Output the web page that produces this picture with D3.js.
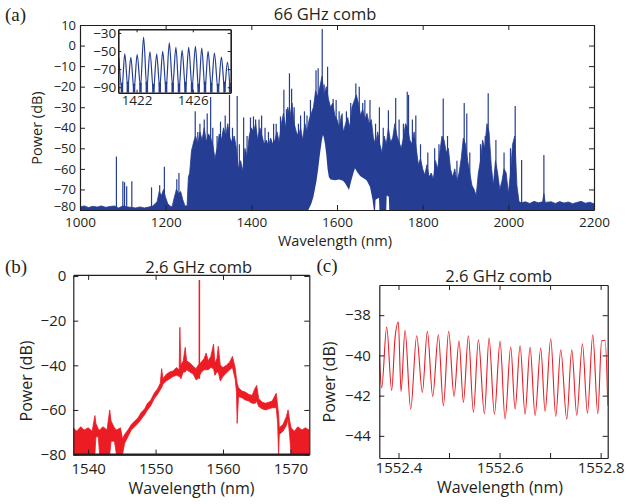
<!DOCTYPE html>
<html>
<head>
<meta charset="utf-8">
<script src="https://cdn.jsdelivr.net/npm/d3@7"></script>
<style>
body { margin: 0; background: white; }
svg { display: block; }
</style>
</head>
<body>
<svg id="fig"></svg>
<script>
// ---------- panel (a): 66 GHz comb, [wavelength nm, power dB] ----------
var aEnvelope = [
  [1000,-78.5],[1010,-78],[1020,-78.8],[1030,-78.2],[1040,-78.6],[1050,-78],[1060,-78.7],[1070,-78.3],
  [1080,-78],[1090,-79],[1100,-78],[1110,-78.5],[1120,-78.7],[1130,-79],[1140,-78.5],[1150,-79],
  [1160,-78.6],[1170,-78],[1180,-76],[1185,-71],[1190,-73],[1195,-70],[1200,-74],[1205,-77],
  [1210,-78],[1215,-78.5],[1220,-74],[1225,-70],[1230,-72],[1235,-71],[1240,-75],[1245,-78],
  [1250,-78],[1253,-64],[1256,-62],[1260,-52],[1265,-47],[1270,-44],[1275,-48],[1280,-42],
  [1285,-46],[1290,-40],[1295,-47],[1300,-43],[1305,-45],[1310,-48],[1315,-55],[1320,-50],
  [1325,-43],[1330,-46],[1335,-40],[1340,-44],[1345,-38],[1350,-45],[1355,-47],[1360,-44],
  [1365,-50],[1370,-60],[1375,-56],[1380,-61],[1385,-50],[1390,-54],[1395,-44],[1400,-40],
  [1405,-42],[1410,-38],[1415,-46],[1420,-40],[1425,-44],[1430,-48],[1435,-46],[1440,-49],
  [1445,-45],[1450,-48],[1455,-46],[1460,-42],[1465,-47],[1470,-38],[1475,-33],[1480,-40],
  [1485,-30],[1490,-35],[1495,-28],[1500,-38],[1505,-42],[1510,-44],[1515,-40],[1520,-46],
  [1525,-38],[1530,-42],[1535,-36],[1540,-33],[1545,-30],[1550,-22],[1555,-25],[1560,-20],
  [1565,-15],[1570,-24],[1575,-20],[1580,-26],[1585,-30],[1590,-28],[1595,-34],[1600,-36],
  [1605,-40],[1610,-34],[1615,-42],[1620,-38],[1625,-35],[1630,-40],[1635,-30],[1640,-27],
  [1645,-24],[1650,-28],[1655,-34],[1660,-31],[1665,-36],[1670,-33],[1675,-38],[1680,-36],
  [1685,-45],[1690,-48],[1695,-42],[1700,-48],[1705,-52],[1710,-44],[1715,-48],[1720,-40],
  [1725,-47],[1730,-45],[1735,-38],[1740,-44],[1745,-47],[1750,-50],[1755,-45],[1760,-38],
  [1765,-40],[1770,-46],[1775,-48],[1780,-42],[1785,-50],[1790,-58],[1795,-55],[1800,-60],
  [1805,-63],[1810,-58],[1815,-64],[1820,-62],[1825,-65],[1830,-56],[1835,-60],[1840,-52],
  [1845,-44],[1850,-46],[1855,-52],[1860,-50],[1865,-60],[1870,-64],[1875,-60],[1880,-66],
  [1885,-62],[1890,-55],[1895,-45],[1900,-48],[1905,-56],[1910,-62],[1915,-68],[1920,-70],
  [1925,-73],[1930,-62],[1935,-56],[1940,-46],[1945,-50],[1950,-38],[1955,-42],[1960,-58],
  [1965,-68],[1970,-56],[1975,-62],[1980,-70],[1985,-66],[1990,-60],[1995,-62],[2000,-72],
  [2005,-62],[2010,-48],[2015,-44],[2020,-68],[2025,-76],[2030,-76.5],[2040,-76],[2050,-76.8],
  [2060,-75.8],[2070,-76.5],[2080,-76],[2083,-72],[2086,-76.3],[2100,-76],[2110,-76.8],[2120,-75.9],
  [2130,-76.6],[2140,-76.1],[2150,-76.9],[2160,-76.3],[2170,-75.8],[2180,-76.7],[2190,-76.2],[2200,-77]
];
var aSpikes = [
  [1085,-54],[1100,-66],[1104,-66.5],[1109,-68.5],[1121,-66],[1167,-69],[1186,-68],[1197,-59],
  [1226,-65],[1231,-62],[1262,-50],[1269,-32],[1275,-42],[1280,-38],[1290,-36],[1297,-33],
  [1305,-25],[1310,-40],[1320,-44],[1328,-37],[1339,-34],[1349,-24],[1356,-40],[1367,-24.5],
  [1372,-48],[1382,-35],[1390,-44],[1398,-35],[1405,-34.5],[1410,-36],[1418,-36],[1424,-34],
  [1432,-40],[1440,-42],[1452,-38],[1458,-38],[1468,-34.5],[1476,-21.5],[1482,-31],[1489,-13.5],
  [1494,-21],[1500,-30],[1510,-38],[1515,-34],[1524,-32],[1530,-34],[1538,-26.5],[1551,-12],
  [1556,-11],[1565.5,8],[1570,-19],[1578,-10.3],[1591,-26],[1598,-26.5],[1605,-32],[1612,-33],
  [1622,-32],[1632,-28],[1644,-18.4],[1652,-20],[1660,-28],[1665,-26.5],[1677,-26.5],[1690,-38],
  [1699,-30],[1708,-40],[1720,-31.5],[1737,-25.5],[1745,-36],[1755,-38],[1764,-22.5],[1767,-24],
  [1776,-36],[1784,-34],[1795,-48],[1812,-52],[1828,-50],[1838,-48],[1848,-25.7],[1858,-44],
  [1880,-56],[1897,-28],[1903,-33],[1910,-52],[1935,-48],[1946,-44],[1953,-23.2],[1971,-46],
  [1990,-52],[2005,-50],[2016,-29.4],[2031,-55.7],[2083,-53.2]
];
// empty (white) regions under the spectrum
var aHole1 = [
  [1533,-80],[1540,-77],[1545,-73.5],[1552,-66],[1556,-60],[1560,-53],[1564,-47],[1567,-43.5],
  [1569,-44.5],[1572,-48],[1575,-53],[1578,-60],[1581,-64],[1585,-65.2],[1595,-65.5],[1605,-65.2],
  [1614,-65.8],[1619,-67],[1623,-68.5],[1628,-70.3],[1633,-66],[1638,-62.2],[1642,-59.7],[1647,-61.5],
  [1654,-63.5],[1662,-64.5],[1669,-65.5],[1677,-68.7],[1683,-75],[1686,-80]
];
var aHole2 = [[1689,-80],[1690,-75],[1698,-74],[1699,-80]];
var aHole3 = [[1715,-80],[1716,-73],[1721,-73.5],[1722,-80]];

// inset of panel (a)
var insetPeaks = [
  [1420.74,-57.8],[1421.16,-53],[1421.59,-57],[1422.04,-54],[1422.5,-34.5],[1422.95,-51],
  [1423.43,-53.3],[1423.86,-50.4],[1424.33,-41],[1424.8,-46],[1425.24,-49.3],[1425.71,-46],
  [1426.19,-44.9],[1426.64,-46.7],[1427.09,-50.4],[1427.54,-52.2],[1428.04,-56.7],[1428.47,-62.2]
];
var insetValleys = [
  [1420.96,-92],[1421.38,-90],[1421.82,-93],[1422.28,-89],[1422.73,-91],[1423.2,-94],
  [1423.65,-90],[1424.1,-92],[1424.57,-89],[1425.02,-93],[1425.48,-91],[1425.95,-90],
  [1426.42,-94],[1426.87,-92],[1427.32,-90],[1427.8,-93],[1428.26,-91],[1428.66,-95]
];
var insetValleyTop = [-85,-84,-86,-85,-84,-86,-85,-84,-85,-86,-84,-85,-86,-84,-85,-86,-84,-85];

// ---------- panel (b): 2.6 GHz comb, [nm, upper dB, lower dB] ----------
var bBand = [
  [1537.8,-68,-80],[1538.3,-69.5,-80],[1538.9,-67.5,-80],[1539.4,-69,-80],[1540.0,-68,-80],
  [1540.6,-69.5,-80],[1541.0,-62.5,-80],[1541.15,-66,-72],[1541.5,-68.5,-72],[1541.7,-69,-80],
  [1542.2,-67.5,-80],[1542.8,-69,-80],[1543.2,-60,-80],[1543.4,-65,-74],[1543.9,-68,-74],
  [1544.2,-69,-80],[1544.8,-68,-80],[1545.1,-73,-80],[1545.4,-71,-75],[1545.9,-69,-72],
  [1546.4,-66.5,-69],[1546.9,-65,-67.5],[1547.4,-63.5,-66],[1547.9,-61,-64],[1548.4,-59.5,-62],
  [1548.8,-57,-60],[1549.3,-55.5,-58],[1549.8,-52.5,-55],[1550.3,-50.5,-53],[1550.7,-48,-51],
  [1550.9,-41.5,-50],[1551.1,-46,-48.5],[1551.6,-44,-47],[1552.1,-43,-46],[1552.6,-42.5,-45],
  [1553.1,-41,-44.5],[1553.5,-42,-45],[1553.6,-23,-45],[1553.75,-40,-46],[1554.1,-38,-43],
  [1554.4,-32,-43],[1554.6,-38,-42],[1555.1,-39,-43],[1555.6,-40.5,-44],[1556.0,-41.5,-46.5],
  [1556.3,-40,-46],[1556.8,-38.5,-43],[1557.2,-37,-42],[1557.5,-34.5,-42],[1557.8,-38,-42],
  [1558.2,-36,-41],[1558.6,-30.5,-41.5],[1558.8,-39,-44.5],[1559.1,-37,-43],[1559.3,-31.5,-43],
  [1559.6,-40,-47],[1560.0,-41,-45],[1560.5,-40,-43.5],[1561.0,-38.5,-42],[1561.4,-36,-41],
  [1561.8,-41,-46],[1562.0,-46,-52],[1562.1,-48,-66],[1562.3,-50,-54],[1562.8,-51.5,-54.5],
  [1563.3,-52,-55.5],[1563.8,-53,-56],[1564.3,-53.5,-57],[1564.8,-50,-57],[1565.0,-49,-56],
  [1565.3,-55,-58.5],[1565.8,-56.5,-59.5],[1566.3,-57,-60],[1566.8,-56.5,-59.5],[1567.3,-56,-59],
  [1567.9,-52.5,-59],[1568.1,-58,-66],[1568.25,-62,-80],[1568.35,-68,-71],[1568.9,-66.5,-69.5],
  [1569.4,-63,-67],[1569.65,-60,-64],[1569.9,-65,-72],[1570.1,-68,-80],[1570.6,-69.5,-80],
  [1571.1,-67.5,-80],[1571.7,-69,-80],[1572.2,-68,-80],[1572.8,-69,-80]
];
var bPump = [[1556.5,-1.8,-46]];

// ---------- panel (c): zoom of the 2.6 GHz comb, [nm, dB] ----------
var cTrace = [
  [1552.3620,-39.97],[1552.3667,-41.62],[1552.3766,-38.59],[1552.3865,-41.74],[1552.3931,-39.14],
  [1552.3997,-38.34],[1552.4050,-41.79],[1552.4129,-38.75],[1552.4241,-42.67],[1552.4360,-39.02],
  [1552.4472,-41.84],[1552.4571,-38.80],[1552.4677,-42.04],[1552.4789,-38.97],[1552.4888,-42.50],
  [1552.4993,-38.80],[1552.5099,-42.04],[1552.5198,-39.27],[1552.5284,-42.34],[1552.5383,-39.02],
  [1552.5482,-42.83],[1552.5581,-39.22],[1552.5700,-42.90],[1552.5792,-39.14],[1552.5898,-42.92],
  [1552.6010,-39.30],[1552.6109,-43.17],[1552.6221,-39.58],[1552.6307,-42.67],[1552.6406,-39.52],
  [1552.6505,-42.92],[1552.6604,-39.60],[1552.6703,-42.98],[1552.6815,-39.63],[1552.6901,-42.78],
  [1552.7013,-39.17],[1552.7112,-43.03],[1552.7211,-39.72],[1552.7330,-43.17],[1552.7429,-39.72],
  [1552.7528,-42.98],[1552.7640,-39.42],[1552.7739,-42.87],[1552.7845,-38.97],[1552.7944,-42.90],
  [1552.8020,-39.27],[1552.8090,-39.25],[1552.8142,-42.50]
];

var aXTicks = [1000,1200,1400,1600,1800,2000,2200];
var aYTicks = [10,0,-10,-20,-30,-40,-50,-60,-70,-80];
var insetXTicks = [1422,1426];
var insetYTicks = [-30,-50,-70,-90];
var bXTicks = [1540,1550,1560,1570];
var bYTicks = [0,-20,-40,-60,-80];
var cXTicks = [1552.4,1552.5,1552.6,1552.7,1552.8];
var cYTicks = [-38,-40,-42,-44];

var ink = "#231f20", blue = "#253e94", red = "#ec1c24";
var font = "'Open Sans', 'Noto Sans', sans-serif";

var svg = d3.select("#fig").attr("width", 626).attr("height", 504);

function boxAxes(g, x, y, o) {
  var x0 = x.range()[0], x1 = x.range()[1], yb = y.range()[0], yt = y.range()[1];
  var sides = [
    [d3.axisBottom(x).tickValues(o.xt).tickFormat(o.xf), "translate(0," + yb + ")", o.xpad],
    [d3.axisTop(x).tickValues(o.xt).tickFormat(""), "translate(0," + yt + ")", 0],
    [d3.axisLeft(y).tickValues(o.yt).tickFormat(o.yf), "translate(" + x0 + ",0)", o.ypad],
    [d3.axisRight(y).tickValues(o.yt).tickFormat(""), "translate(" + x1 + ",0)", 0]
  ];
  var axes = sides.map(function (s) {
    var ax = g.append("g").attr("transform", s[1])
      .call(s[0].tickSizeInner(-o.ts).tickSizeOuter(0).tickPadding(s[2]));
    ax.select(".domain").attr("stroke", ink).attr("stroke-width", o.sw);
    ax.selectAll(".tick line").attr("stroke", ink);
    ax.selectAll("text").attr("fill", ink).attr("font-size", o.fs).attr("font-family", font);
    return ax;
  });
  return axes;
}

function clipRect(id, x, y) {
  svg.append("clipPath").attr("id", id).append("rect")
    .attr("x", x.range()[0]).attr("y", y.range()[1])
    .attr("width", x.range()[1] - x.range()[0]).attr("height", y.range()[0] - y.range()[1]);
}

function label(txt, x, y, size, opts) {
  opts = opts || {};
  var t = svg.append("text").text(txt).attr("x", x).attr("y", y)
    .attr("font-size", size).attr("fill", ink)
    .attr("font-family", opts.serif ? "'Liberation Serif', 'Times New Roman', serif" : font)
    .attr("text-anchor", opts.anchor || "middle");
  if (opts.rotate) t.attr("transform", "rotate(-90," + x + "," + y + ")");
  return t;
}

// ================= panel (a) =================
var xa = d3.scaleLinear().domain([1000, 2200]).range([80, 594]);
var ya = d3.scaleLinear().domain([-80, 10]).range([210, 25]);
clipRect("clipA", xa, ya);
var ga = svg.append("g").attr("clip-path", "url(#clipA)");

ga.selectAll("line.spike").data(aSpikes).enter().append("line")
  .attr("x1", function (d) { return xa(d[0]); }).attr("x2", function (d) { return xa(d[0]); })
  .attr("y1", ya(-80)).attr("y2", function (d) { return ya(d[1]); })
  .attr("stroke", blue).attr("stroke-width", 1.2);

ga.append("path").datum(aEnvelope)
  .attr("fill", blue).attr("stroke", blue).attr("stroke-width", 0.8)
  .attr("d", d3.area().x(function (d) { return xa(d[0]); }).y0(ya(-80)).y1(function (d) { return ya(d[1]); }));

var holeArea = d3.area().x(function (d) { return xa(d[0]); }).y0(ya(-80) + 1).y1(function (d) { return ya(d[1]); });
[aHole1, aHole2, aHole3].forEach(function (h) {
  ga.append("path").datum(h).attr("fill", "white").attr("d", holeArea);
});

var axA = boxAxes(svg.append("g"), xa, ya, {
  xt: aXTicks, yt: aYTicks, xf: d3.format("d"), yf: d3.format("d"),
  fs: 13.5, ts: 5, xpad: 7.5, ypad: 4, sw: 1.2
});
axA[2].selectAll("text").attr("font-size", 13);
// the lowest power label sits a little above its tick, as in the original
axA[2].selectAll(".tick text").filter(function (d) { return d === -80; }).attr("y", -3.5);

// inset
var xi = d3.scaleLinear().domain([1420.7, 1428.7]).range([118.3, 230.7]);
var yi = d3.scaleLinear().domain([-96, -26]).range([92.7, 29.3]);
svg.append("rect").attr("x", 118.3).attr("y", 29.3).attr("width", 112.4).attr("height", 63.4).attr("fill", "white");
clipRect("clipI", xi, yi);
var gi = svg.append("g").attr("clip-path", "url(#clipI)");
gi.selectAll("line.vb").data(insetValleys).enter().append("line")
  .attr("x1", function (d) { return xi(d[0]); }).attr("x2", function (d) { return xi(d[0]); })
  .attr("y1", yi(-96)).attr("y2", function (d, i) { return yi(insetValleyTop[i]); })
  .attr("stroke", blue).attr("stroke-width", 2.5);
var insetPts = insetPeaks.concat(insetValleys).sort(function (a, b) { return a[0] - b[0]; });
gi.append("path").datum(insetPts)
  .attr("fill", "none").attr("stroke", blue).attr("stroke-width", 1.2)
  .attr("d", d3.line().curve(d3.curveMonotoneX).x(function (d) { return xi(d[0]); }).y(function (d) { return yi(d[1]); }));
boxAxes(svg.append("g"), xi, yi, {
  xt: insetXTicks, yt: insetYTicks, xf: d3.format("d"), yf: d3.format("d"),
  fs: 13.5, ts: 3, xpad: 3, ypad: 2, sw: 1.6
});

label("66 GHz comb", 325, 20, 16.5);
label("(a)", 5, 21, 19, { serif: true, anchor: "start" });
label("Wavelength (nm)", 335, 246, 14.5);
label("Power (dB)", 41.5, 128, 14.5, { rotate: true });

// ================= panel (b) =================
var xb = d3.scaleLinear().domain([1537.8, 1572.8]).range([73.3, 309.3]);
var yb = d3.scaleLinear().domain([-80, 0.5]).range([454.6, 274.9]);
clipRect("clipB", xb, yb);
var gb = svg.append("g").attr("clip-path", "url(#clipB)");
gb.append("path").datum(bBand)
  .attr("fill", red).attr("stroke", red).attr("stroke-width", 0.8)
  .attr("d", d3.area().x(function (d) { return xb(d[0]); })
    .y0(function (d) { return yb(d[2]); }).y1(function (d) { return yb(d[1]); }));
gb.selectAll("line.pump").data(bPump).enter().append("line")
  .attr("x1", function (d) { return xb(d[0]); }).attr("x2", function (d) { return xb(d[0]); })
  .attr("y1", function (d) { return yb(d[2]); }).attr("y2", function (d) { return yb(d[1]); })
  .attr("stroke", red).attr("stroke-width", 1.5);
boxAxes(svg.append("g"), xb, yb, {
  xt: bXTicks, yt: bYTicks, xf: d3.format("d"), yf: d3.format("d"),
  fs: 15, ts: 5, xpad: 9, ypad: 7, sw: 1.2
});
svg.append("line").attr("x1", 73.3).attr("x2", 309.3).attr("y1", 454.6).attr("y2", 454.6)
  .attr("stroke", ink).attr("stroke-width", 2);

label("2.6 GHz comb", 198.7, 273, 16.5);
label("(b)", 5, 273, 19, { serif: true, anchor: "start" });
label("Wavelength (nm)", 191.5, 494, 16);
label("Power (dB)", 31.5, 381, 16, { rotate: true });

// ================= panel (c) =================
var xc = d3.scaleLinear().domain([1552.362, 1552.814]).range([379.3, 607.7]);
var yc = d3.scaleLinear().domain([-45.1, -36.5]).range([458, 285]);
clipRect("clipC", xc, yc);
var gc = svg.append("g").attr("clip-path", "url(#clipC)");
gc.append("path").datum(cTrace)
  .attr("fill", "none").attr("stroke", red).attr("stroke-width", 1.1)
  .attr("d", d3.line().curve(d3.curveMonotoneX).x(function (d) { return xc(d[0]); }).y(function (d) { return yc(d[1]); }));
boxAxes(svg.append("g"), xc, yc, {
  xt: cXTicks, yt: cYTicks,
  xf: function (d) { return Math.round(d * 10) % 2 === 0 ? d3.format(".1f")(d) : ""; },
  yf: d3.format("d"),
  fs: 15, ts: 5, xpad: 4.5, ypad: 8.5, sw: 1.2
});

label("2.6 GHz comb", 498.7, 282, 16.5);
label("(c)", 316.5, 272, 19, { serif: true, anchor: "start" });
label("Wavelength (nm)", 500, 493, 16);
label("Power (dB)", 335, 382, 16, { rotate: true });
</script>
</body>
</html>
